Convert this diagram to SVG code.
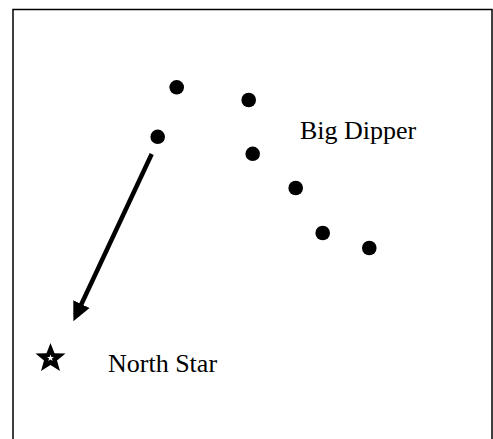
<svg xmlns="http://www.w3.org/2000/svg" width="493" height="439" viewBox="0 0 493 439">
  <style>
    .frame { fill: none; stroke: #000; stroke-width: 1.5; }
    .dot { fill: #000; }
    .label { font-family: "Liberation Serif", "Times New Roman", serif; font-size: 26px; fill: #000; }
    .conn { stroke: #000; stroke-width: 4.5; fill: none; }
  </style>
  <defs>
    <marker id="arrowhead" markerUnits="userSpaceOnUse" markerWidth="20" markerHeight="20" viewBox="0 0 20 20" refX="1" refY="10" orient="auto">
      <polygon points="0,1 19,10 0,19" fill="#000"/>
    </marker>
  </defs>
  <rect width="493" height="439" fill="#fff"/>
  <path class="frame" d="M13,440 V9.5 H492 V440"/>

  <g id="big-dipper">
    <circle class="dot" cx="176.7" cy="87.3" r="7.3"/>
    <circle class="dot" cx="248.7" cy="100" r="7.3"/>
    <circle class="dot" cx="157.7" cy="136.8" r="7.3"/>
    <circle class="dot" cx="252.7" cy="153.8" r="7.3"/>
    <circle class="dot" cx="295.7" cy="188" r="7.3"/>
    <circle class="dot" cx="322.7" cy="233" r="7.3"/>
    <circle class="dot" cx="369.3" cy="248" r="7.3"/>
  </g>
  <g id="big-dipper-label">
    <text class="label" x="300" y="139">Big Dipper</text>
  </g>

  <g id="north-star">
    <polygon fill="#000" points="50.5,343 54.5,353.2 65.5,353.5 57,360.5 60,371 50.5,365 41,371 44,360.5 35.5,353.5 46.5,353.2"/>
    <polygon fill="#fff" points="50.5,354.5 51.4,357 54,357 51.9,358.6 52.7,361 50.5,359.6 48.3,361 49.1,358.6 47,357 49.6,357"/>
  </g>
  <g id="north-star-label">
    <text class="label" x="108" y="372">North Star</text>
  </g>

  <g id="connectors">
    <line class="conn" x1="151.7" y1="154" x2="81" y2="305" marker-end="url(#arrowhead)"/>
  </g>
</svg>
